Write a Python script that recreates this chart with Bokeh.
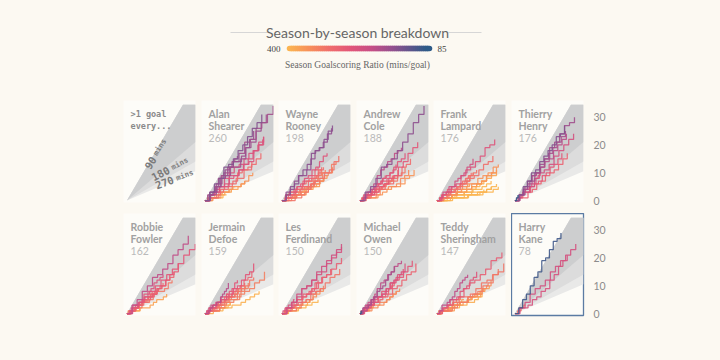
import numpy as np
from bokeh.plotting import figure
from bokeh.layouts import column, row
from bokeh.models import Spacer, Label, FixedTicker, Range1d
from bokeh.embed import file_html
from bokeh.resources import INLINE

try:
    from bokeh.models import GlobalInlineStyleSheet
except Exception:
    GlobalInlineStyleSheet = None

# ---------------- data ----------------
TITLE = "Season-by-season breakdown"
SUBTITLE = "Season Goalscoring Ratio (mins/goal)"
SCALE_WORST = 400
SCALE_BEST = 85

PLAYER_NAMES = [("Alan", "Shearer"), ("Wayne", "Rooney"), ("Andrew", "Cole"),
                ("Frank", "Lampard"), ("Thierry", "Henry"), ("Robbie", "Fowler"),
                ("Jermain", "Defoe"), ("Les", "Ferdinand"), ("Michael", "Owen"),
                ("Teddy", "Sheringham"), ("Harry", "Kane")]
PLAYER_TOTALS = [260, 198, 188, 176, 176, 162, 159, 150, 150, 147, 78]

# per season: minutes played, and goals scored in each twelfth of those minutes
SHEARER_MINS = [1800, 3400, 3780, 3150, 2700, 1200, 2600, 3250, 1650, 3250, 3100, 3200, 2200, 2650]
SHEARER_GOALS = ["201231102211", "323130342433", "243323414233", "332412323323", "212331202333",
                 "000100000100", "101210120312", "212130221423", "100100100110", "221322122132",
                 "102121310222", "212031222322", "100101010111", "010201101121"]
ROONEY_MINS = [1600, 2500, 2400, 3150, 3000, 2200, 2300, 2750, 2200, 2800, 2000, 2500, 2800, 2300, 1500]
ROONEY_GOALS = ["000101010201", "100101200211", "210010102211", "101202112132", "201110212031",
                "110201021121", "011202101121", "313202431232", "000101121221", "231322411332",
                "101210201121", "210212121221", "101110201212", "100100201111", "010010010101"]
COLE_MINS = [3550, 3200, 2700, 1300, 2800, 2500, 2300, 1400, 2000, 3000, 2100, 2500, 1800]
COLE_GOALS = ["323412333433", "201212132322", "100120101212", "100101010101", "110211021312",
              "201212112212", "121232121211", "101101020111", "110211101212", "100111101212",
              "011101021112", "101201110212", "100201011102"]
LAMPARD_MINS = [100, 600, 2600, 3400, 3000, 2600, 3000, 3300, 3300, 3400, 3100, 3300, 1900, 3300,
                3200, 2000, 2200, 2000, 1800, 1000]
LAMPARD_GOALS = ["000000000000", "000000000000", "000100100011", "010001001011", "100101010111",
                 "010100101111", "001000101011", "100100100111", "101101111111", "110211021121",
                 "201121112212", "101101111211", "110101102111", "101110201212", "212132122312",
                 "100201110211", "011201101211", "120202111212", "100100101011", "010101100101"]
HENRY_MINS = [2600, 2900, 2850, 3250, 3300, 2800, 2750, 1400, 170]
HENRY_GOALS = ["120211212122", "102121211222", "222312213222", "212321232222", "232332423312",
               "223212322222", "232313222313", "101110110211", "000001000001"]
FOWLER_MINS = [2500, 3780, 3400, 2850, 1750, 2000, 800, 1600, 2600, 600, 2200, 2000, 1400, 700]
FOWLER_GOALS = ["110201210121", "223122222322", "323231223223", "211201212213", "101101011111",
                "120111212111", "100000100100", "101010111101", "111201211212", "000100000100",
                "100100111011", "101201110211", "100110110111", "000100000001"]
DEFOE_MINS = [30, 2200, 3000, 1300, 2700, 2200, 2000, 1800, 1300, 2700, 1400, 1300, 2400, 400, 1400,
              2600, 3300]
DEFOE_GOALS = ["000000000000", "101101111111", "100101011111", "101101010110", "110211021121",
               "101201110211", "100201110211", "110201021121", "010101100111", "211201212213",
               "000100100011", "011101021112", "100201011212", "001000100100", "010000100101",
               "111201211212", "101210211213"]
FERDINAND_MINS = [3300, 3200, 3300, 3300, 2700, 1700, 2000, 700, 2300, 2300, 1100, 2000, 300]
FERDINAND_GOALS = ["212112221222", "101212112212", "222312213222", "223212322222", "201121112212",
                   "100100100110", "010010010101", "101001001010", "110101102111", "101101011111",
                   "000100000100", "101210201121", "000000100000"]
OWEN_MINS = [100, 3100, 2500, 1900, 1900, 2300, 2900, 2400, 900, 150, 2200, 2000, 800, 400, 60, 250]
OWEN_GOALS = ["000000000001", "211201212213", "121201221213", "110110111211", "201212112212",
              "121232121211", "212121211222", "201121112212", "101101010110", "000000000000",
              "101101011111", "100101011111", "100000100100", "000100000100", "000000000001",
              "000000100000"]
SHERINGHAM_MINS = [3600, 1700, 3700, 3400, 2500, 2600, 700, 1500, 2200, 2900, 3000, 2500, 1300, 700]
SHERINGHAM_GOALS = ["212132122312", "120111212111", "121201221213", "101202112132", "100101010111",
                    "101101011111", "000100000100", "100100100110", "111201211212", "100201110211",
                    "101110201212", "100201011102", "100101010101", "000100000001"]
KANE_MINS = [110, 590, 2900, 3370, 2550]
KANE_GOALS = ["000000000000", "001000100100", "201212132322", "223212322222", "232332413312"]

PLAYER_MINS = [SHEARER_MINS, ROONEY_MINS, COLE_MINS, LAMPARD_MINS, HENRY_MINS, FOWLER_MINS,
               DEFOE_MINS, FERDINAND_MINS, OWEN_MINS, SHERINGHAM_MINS, KANE_MINS]
PLAYER_GOALS = [SHEARER_GOALS, ROONEY_GOALS, COLE_GOALS, LAMPARD_GOALS, HENRY_GOALS, FOWLER_GOALS,
                DEFOE_GOALS, FERDINAND_GOALS, OWEN_GOALS, SHERINGHAM_GOALS, KANE_GOALS]
HIGHLIGHT = "Kane"

BAND_RATIOS = [90, 180, 270, 360]          # mins per goal reference lines
BAND_NUMS = ["90", "180", "270"]
X_MAX = 3800
Y_TICKS = [0, 10, 20, 30]

# ---------------- style ----------------
BG = "#fcf9f2"
PANEL_BG = "#fdfcf8"
BAND_COLORS = ["#e9e9e8", "#dcdcdc", "#cdcecf"]   # lightest (outer) .. darkest (inner)
STOP_T = [0.0, 0.15, 0.3, 0.45, 0.6, 0.75, 0.88, 1.0]
STOP_C = ["#fbb551", "#f7905a", "#ef6d6c", "#e25679", "#c74f86", "#95508f", "#60558c", "#2e5b88"]
NAME_FONT = "Lato"
MONO = "DejaVu Sans Mono"
SERIF = "Liberation Serif"
CAP = 34.5


def hex2rgb(h):
    return tuple(int(h[i:i + 2], 16) for i in (1, 3, 5))


def grad(t):
    t = min(max(t, 0.0), 1.0)
    for i in range(len(STOP_T) - 1):
        if t <= STOP_T[i + 1]:
            f = (t - STOP_T[i]) / (STOP_T[i + 1] - STOP_T[i])
            a, b = hex2rgb(STOP_C[i]), hex2rgb(STOP_C[i + 1])
            c = [round(a[k] + (b[k] - a[k]) * f) for k in range(3)]
            return "#%02x%02x%02x" % tuple(c)
    return STOP_C[-1]


def ratio_t(mins, goals):
    if goals == 0:
        return 0.0
    rate = goals / mins
    return (rate - 1 / SCALE_WORST) / (1 / SCALE_BEST - 1 / SCALE_WORST)


FRAME_W, FRAME_H = 72, 102
GAPS = [6, 5, 6, 5, 6, 0]


def base_panel(col, rowi):
    last = col == 5
    p = figure(frame_width=FRAME_W, frame_height=FRAME_H,
               x_range=Range1d(-190, X_MAX), y_range=Range1d(-0.7, 36),
               output_backend="svg", toolbar_location=None,
               min_border_left=0, min_border_top=0,
               min_border_bottom=11 if rowi == 0 else 4,
               min_border_right=GAPS[col],
               background_fill_color=PANEL_BG, border_fill_color=BG,
               outline_line_color=None, x_axis_location=None,
               y_axis_location="right" if last else None)
    p.grid.visible = False
    if last:
        ax = p.yaxis[0]
        ax.ticker = FixedTicker(ticks=Y_TICKS)
        ax.axis_line_color = None
        ax.major_tick_line_color = None
        ax.minor_tick_line_color = None
        ax.major_tick_out = 0
        ax.major_tick_in = 0
        ax.major_label_standoff = 10
        ax.major_label_text_color = "#8c8c8c"
        ax.major_label_text_font = NAME_FONT
        ax.major_label_text_font_size = "10.5px"
    # reference wedges, outermost first
    r0 = BAND_RATIOS[0]
    for k in range(len(BAND_RATIOS) - 1, 0, -1):
        rb = BAND_RATIOS[k]
        xs, ys = [0], [0]
        ya = X_MAX / r0
        if ya > CAP:
            xs += [CAP * r0, X_MAX]
            ys += [CAP, CAP]
        else:
            xs += [X_MAX]
            ys += [ya]
        xs += [X_MAX]
        ys += [min(X_MAX / rb, CAP)]
        p.patch(xs, ys, fill_color=BAND_COLORS[len(BAND_RATIOS) - 1 - k], line_color=None)
    return p


panels = []
# legend panel
lp = base_panel(0, 0)
for i, txt in enumerate([">1 goal", "every..."]):
    lp.add_layout(Label(x=200, y=31.0 - 4.0 * i, text=txt, text_font=MONO,
                        text_font_size="8.5px", text_font_style="bold",
                        text_color="#8a8a8a", text_align="left", text_baseline="alphabetic"))
# (number position, "mins" position, angle)
LBL_POS = [((1300, 13.6), (1813, 19.2), 58),
           ((1860, 9.7), (2914, 13.3), 28),
           ((2082, 6.5), (3202, 9.1), 20)]
for ((nx, ny), (mx, my), ang), num in zip(LBL_POS, BAND_NUMS):
    lp.add_layout(Label(x=nx, y=ny, text=num, angle=np.radians(ang), text_font=MONO,
                        text_font_size="10.5px", text_font_style="bold",
                        text_color="#7a7a7a", text_align="center", text_baseline="middle"))
    lp.add_layout(Label(x=mx, y=my, text="mins", angle=np.radians(ang), text_font=MONO,
                        text_font_size="7.5px", text_font_style="bold",
                        text_color="#7f7f7f", text_align="center", text_baseline="middle"))
panels.append(lp)

for idx, (names, total, mins, goals) in enumerate(zip(PLAYER_NAMES, PLAYER_TOTALS,
                                                      PLAYER_MINS, PLAYER_GOALS)):
    slot = idx + 1
    col, rowi = slot % 6, slot // 6
    p = base_panel(col, rowi)
    seasons = []
    for m, g in zip(mins, goals):
        d = [int(c) for c in g]
        seasons.append((ratio_t(m, sum(d)), m, d))
    seasons.sort(key=lambda s: s[0])
    for t, m, d in seasons:
        n = len(d)
        xs = [m * k / n for k in range(n + 1)]
        ys = [0] + list(np.cumsum(d))
        p.step(xs, ys, mode="after", line_color=grad(t), line_width=1.25, line_alpha=0.9)
    for i, nm in enumerate(names):
        p.add_layout(Label(x=200, y=31.0 - 4.3 * i, text=nm, text_font=NAME_FONT,
                           text_font_size="10.5px", text_font_style="bold",
                           text_color="#a1a1a1", text_align="left", text_baseline="alphabetic"))
    p.add_layout(Label(x=200, y=31.0 - 8.6, text=str(total), text_font=NAME_FONT,
                       text_font_size="10.5px", text_color="#bababa",
                       text_align="left", text_baseline="alphabetic"))
    if names[1] == HIGHLIGHT:
        p.outline_line_color = "#5b7ba3"
        p.outline_line_width = 1.3
    panels.append(p)

# header
hdr = figure(width=720, height=100, x_range=Range1d(0, 720), y_range=Range1d(0, 100),
             min_border=0, toolbar_location=None, output_backend="svg",
             x_axis_location=None, y_axis_location=None, outline_line_color=None,
             background_fill_color=BG, border_fill_color=BG)
hdr.grid.visible = False
hdr.add_layout(Label(x=357, y=68, text=TITLE, text_font="Lato", text_font_size="14px",
                     text_color="#666666", text_align="center", text_baseline="middle"))
hdr.segment(x0=[230, 448], y0=[68, 68], x1=[267, 481], y1=[68, 68],
            line_color="#d6d6d6", line_width=1)
NSEG = 72
bx = np.linspace(289, 429, NSEG + 1)
hdr.segment(x0=bx[:-1], y0=[52] * NSEG, x1=bx[1:], y1=[52] * NSEG,
            line_color=[grad(i / (NSEG - 1)) for i in range(NSEG)],
            line_width=5.5, line_cap="round")
hdr.add_layout(Label(x=280, y=52, text=str(SCALE_WORST), text_font=SERIF, text_font_size="9px",
                     text_color="#444444", text_align="right", text_baseline="middle"))
hdr.add_layout(Label(x=437, y=52, text=str(SCALE_BEST), text_font=SERIF, text_font_size="9px",
                     text_color="#444444", text_align="left", text_baseline="middle"))
hdr.add_layout(Label(x=357, y=36, text=SUBTITLE, text_font=SERIF, text_font_size="9.5px",
                     text_color="#666666", text_align="center", text_baseline="middle"))

row1 = row(Spacer(width=123, height=113), *panels[0:6])
row2 = row(Spacer(width=123, height=106), *panels[6:12])
kw = {}
if GlobalInlineStyleSheet is not None:
    kw["stylesheets"] = [GlobalInlineStyleSheet(
        css="html, body { margin: 0; padding: 0; background-color: %s; }" % BG)]
root = column(hdr, row1, row2, **kw)

open("out.html", "w").write(file_html(root, INLINE))
